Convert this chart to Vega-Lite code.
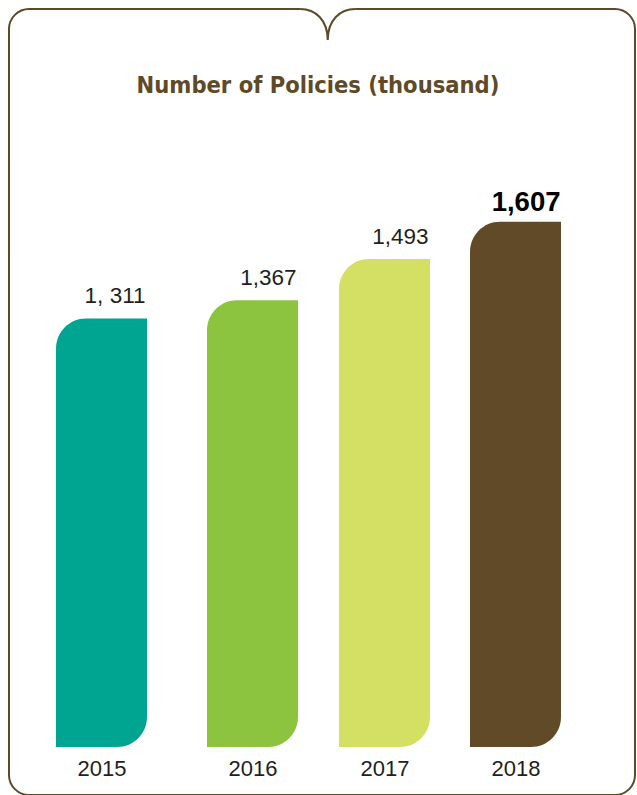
{
  "$schema": "https://vega.github.io/schema/vega-lite/v6.json",
  "width": 626,
  "height": 786,
  "autosize": "none",
  "padding": {"left": 9, "top": 9, "right": 2, "bottom": 0},
  "background": "white",
  "config": {
    "view": {"stroke": "#5E4A28", "strokeWidth": 2, "cornerRadius": 20}
  },
  "title": {
    "text": "Number of Policies (thousand)",
    "font": "DejaVu Sans Condensed",
    "fontSize": 23.5,
    "fontWeight": "bold",
    "color": "#5E4A28",
    "anchor": "middle",
    "frame": "group",
    "baseline": "alphabetic",
    "offset": -111,
    "dx": -4
  },
  "data": {
    "values": [
      {"year": 2015, "value": 1311, "label": "1, 311"},
      {"year": 2016, "value": 1367, "label": "1,367"},
      {"year": 2017, "value": 1493, "label": "1,493"},
      {"year": 2018, "value": 1607, "label": "1,607"}
    ]
  },
  "layer": [
    {
      "mark": {"type": "bar", "orient": "vertical", "width": 91, "cornerRadiusTopLeft": 30, "cornerRadiusBottomRight": 30},
      "encoding": {
        "x": {
          "field": "year",
          "type": "quantitative",
          "scale": {"domain": [2015, 2016, 2017, 2018], "range": [92.5, 243.5, 375.5, 506.5], "padding": 0, "nice": false, "zero": false},
          "axis": {
            "values": [2015, 2016, 2017, 2018],
            "format": "d",
            "domain": false,
            "ticks": false,
            "grid": false,
            "offset": -40,
            "labelPadding": 20,
            "labelBaseline": "alphabetic",
            "labelFontSize": 22,
            "labelFont": "Liberation Sans",
            "labelColor": "#231F20",
            "labelFlush": false,
            "labelOverlap": false,
            "title": null
          }
        },
        "y": {
          "field": "value",
          "type": "quantitative",
          "scale": {"domain": [-147, 2258], "nice": false, "zero": false},
          "axis": null
        },
        "y2": {"datum": 0},
        "color": {
          "field": "year",
          "type": "nominal",
          "scale": {"domain": [2015, 2016, 2017, 2018], "range": ["#00A591", "#8CC43F", "#D3E063", "#614A28"]},
          "legend": null
        }
      }
    },
    {
      "transform": [{"filter": "datum.year < 2018"}],
      "mark": {"type": "text", "align": "right", "baseline": "alphabetic", "dx": 44, "dy": -15, "fontSize": 22.5, "font": "Liberation Sans", "color": "#231F20"},
      "encoding": {
        "x": {"field": "year", "type": "quantitative"},
        "y": {"field": "value", "type": "quantitative"},
        "text": {"field": "label"}
      }
    },
    {
      "transform": [{"filter": "datum.year == 2018"}],
      "mark": {"type": "text", "align": "right", "baseline": "alphabetic", "dx": 45, "dy": -11, "fontSize": 27.5, "fontWeight": "bold", "font": "Liberation Sans", "color": "#000000"},
      "encoding": {
        "x": {"field": "year", "type": "quantitative"},
        "y": {"field": "value", "type": "quantitative"},
        "text": {"field": "label"}
      }
    },
    {
      "data": {"values": [{"part": "notch"}]},
      "mark": {
        "type": "point",
        "shape": "M -1 -0.09 L -1 0 C -0.45 0 0 0.4 0 1.13 C 0 0.4 0.45 0 1 0 L 1 -0.09 Z",
        "size": 3025,
        "filled": true,
        "fill": "#FFFFFF",
        "strokeWidth": 0,
        "opacity": 1
      },
      "encoding": {
        "x": {"datum": 2016.57, "type": "quantitative"},
        "y": {"datum": 2258, "type": "quantitative"}
      }
    },
    {
      "data": {"values": [{"part": "notch"}]},
      "mark": {
        "type": "point",
        "shape": "M -1 0 C -0.45 0 0 0.4 0 1.13 M 1 0 C 0.45 0 0 0.4 0 1.13",
        "size": 3025,
        "filled": false,
        "stroke": "#5E4A28",
        "strokeWidth": 2,
        "opacity": 1
      },
      "encoding": {
        "x": {"datum": 2016.57, "type": "quantitative"},
        "y": {"datum": 2258, "type": "quantitative"}
      }
    }
  ]
}
